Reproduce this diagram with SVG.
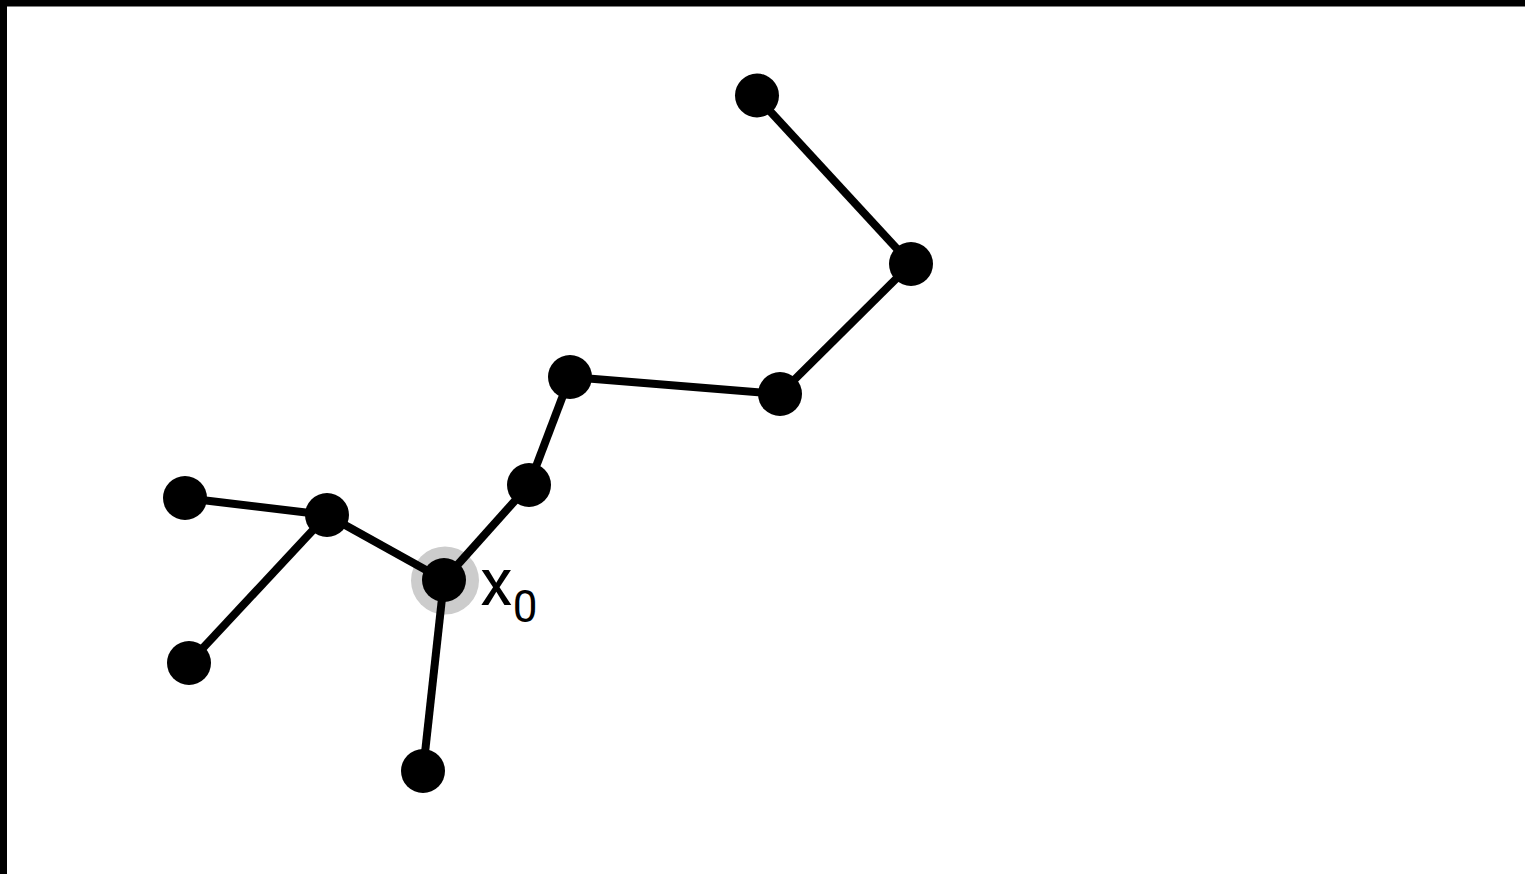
<svg xmlns="http://www.w3.org/2000/svg" width="1525" height="874" viewBox="0 0 1525 874">
<style>
.e{stroke:#000;stroke-width:8;fill:none}
.n{fill:#000}
.lbl{font-family:Roboto,"Open Sans",sans-serif;fill:#000}
</style>
<rect x="0" y="0" width="1525" height="874" fill="#fff"/>
<rect x="0" y="0" width="1525" height="6.5" fill="#000"/>
<rect x="0" y="0" width="7" height="874" fill="#000"/>
<circle cx="445" cy="580.5" r="34" fill="#cccccc"/>
<g id="connectors">
<line class="e" x1="756" y1="96" x2="911" y2="264"/>
<line class="e" x1="911" y1="264" x2="780" y2="394"/>
<line class="e" x1="780" y1="394" x2="570" y2="377"/>
<line class="e" x1="570" y1="377" x2="529" y2="485"/>
<line class="e" x1="529" y1="485" x2="444" y2="580"/>
<line class="e" x1="444" y1="580" x2="327" y2="515"/>
<line class="e" x1="327" y1="515" x2="185" y2="498"/>
<line class="e" x1="327" y1="515" x2="189" y2="663"/>
<line class="e" x1="444" y1="580" x2="423" y2="771"/>
</g>
<g id="nA"><circle class="n" cx="757" cy="95.5" r="22"/></g>
<g id="nB"><circle class="n" cx="911" cy="264" r="22"/></g>
<g id="nC"><circle class="n" cx="780" cy="394" r="22"/></g>
<g id="nD"><circle class="n" cx="570" cy="377" r="22"/></g>
<g id="nE"><circle class="n" cx="529" cy="485" r="22"/></g>
<g id="nF"><circle class="n" cx="444" cy="580" r="22"/></g>
<g id="nG"><circle class="n" cx="327" cy="515" r="22"/></g>
<g id="nH"><circle class="n" cx="185" cy="498" r="22"/></g>
<g id="nI"><circle class="n" cx="189" cy="663" r="22"/></g>
<g id="nJ"><circle class="n" cx="423" cy="771" r="22"/></g>
<g id="label"><text class="lbl" x="480" y="605" font-size="66">x<tspan font-size="44" y="622">0</tspan></text></g>
</svg>
